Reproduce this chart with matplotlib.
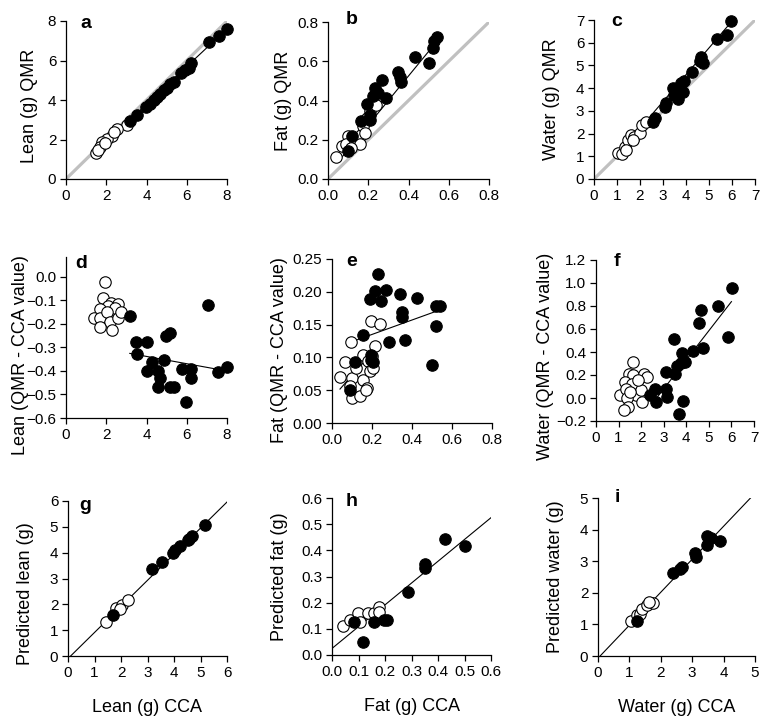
import numpy as np
import matplotlib
matplotlib.use('Agg')
from matplotlib import pyplot as plt

plt.rcParams['font.family'] = ['Liberation Sans', 'DejaVu Sans']

W, H = 768, 727

# ---- panel a: lean, QMR vs CCA
a_fill_x = [8.0, 7.58, 7.09, 6.21, 6.09, 5.93, 5.73, 5.35, 5.18, 5.02, 4.85, 4.69, 4.52, 4.35, 4.19, 3.99, 3.53, 3.16]
a_fill_y = [7.61, 7.22, 6.93, 5.88, 5.62, 5.50, 5.37, 4.92, 4.80, 4.63, 4.50, 4.29, 4.16, 3.99, 3.82, 3.65, 3.23, 2.95]
a_open_x = [3.03, 2.53, 2.28, 2.04, 1.79, 1.70, 1.51, 1.57, 1.95, 2.37]
a_open_y = [2.73, 2.51, 2.17, 2.05, 1.89, 1.63, 1.33, 1.46, 1.80, 2.40]

# ---- panel b: fat, QMR vs CCA
b_fill_x = [0.543, 0.527, 0.522, 0.50, 0.431, 0.348, 0.356, 0.364, 0.27, 0.235, 0.25, 0.224, 0.29, 0.194, 0.207, 0.207, 0.162, 0.119, 0.099]
b_fill_y = [0.724, 0.703, 0.669, 0.592, 0.621, 0.544, 0.52, 0.493, 0.507, 0.464, 0.44, 0.421, 0.413, 0.382, 0.328, 0.302, 0.294, 0.217, 0.145]
b_open_x = [0.041, 0.07, 0.099, 0.091, 0.132, 0.146, 0.162, 0.174, 0.195, 0.207, 0.24, 0.157, 0.116, 0.182]
b_open_y = [0.114, 0.166, 0.22, 0.179, 0.183, 0.20, 0.225, 0.268, 0.311, 0.345, 0.379, 0.179, 0.157, 0.234]

# ---- panel c: water, QMR vs CCA
c_fill_x = [5.95, 5.79, 5.36, 4.60, 4.65, 4.72, 4.27, 3.90, 3.77, 3.88, 3.66, 3.44, 3.47, 3.15, 3.08, 2.57, 2.64, 3.58]
c_fill_y = [6.97, 6.34, 6.17, 5.20, 5.39, 5.12, 4.73, 4.33, 4.24, 3.85, 3.52, 3.99, 3.70, 3.33, 3.16, 2.53, 2.67, 3.85]
c_open_x = [1.04, 1.22, 1.34, 1.48, 1.63, 1.73, 1.99, 2.10, 2.28, 1.41, 1.70]
c_open_y = [1.13, 1.10, 1.42, 1.72, 1.94, 1.86, 2.01, 2.38, 2.53, 1.28, 1.72]

# ---- panel d: lean residual
d_fill_x = [3.17, 3.5, 4.0, 3.55, 4.25, 4.0, 4.86, 4.96, 5.16, 4.58, 4.69, 4.55, 5.16, 5.39, 5.74, 6.23, 6.23, 5.98, 7.06, 7.55, 8.0]
d_fill_y = [-0.165, -0.278, -0.278, -0.329, -0.36, -0.40, -0.353, -0.251, -0.237, -0.40, -0.431, -0.467, -0.469, -0.466, -0.391, -0.391, -0.428, -0.532, -0.12, -0.403, -0.381]
d_open_x = [1.93, 1.85, 2.26, 2.6, 2.07, 1.69, 2.43, 1.4, 1.69, 2.02, 2.18, 2.6, 2.71, 1.69, 2.3]
d_open_y = [-0.021, -0.088, -0.11, -0.113, -0.124, -0.138, -0.131, -0.174, -0.174, -0.151, -0.19, -0.176, -0.151, -0.212, -0.226]

# ---- panel e: fat residual
e_fill_x = [0.23, 0.217, 0.268, 0.192, 0.243, 0.342, 0.427, 0.348, 0.348, 0.518, 0.54, 0.522, 0.153, 0.285, 0.363, 0.502, 0.117, 0.197, 0.197, 0.205, 0.092]
e_fill_y = [0.227, 0.201, 0.202, 0.189, 0.186, 0.196, 0.191, 0.169, 0.161, 0.178, 0.179, 0.148, 0.134, 0.124, 0.127, 0.088, 0.093, 0.103, 0.096, 0.093, 0.050]
e_open_x = [0.193, 0.238, 0.093, 0.213, 0.20, 0.155, 0.063, 0.038, 0.10, 0.18, 0.155, 0.188, 0.205, 0.122, 0.088, 0.177, 0.10, 0.138, 0.168]
e_open_y = [0.156, 0.151, 0.124, 0.118, 0.102, 0.103, 0.093, 0.070, 0.069, 0.094, 0.066, 0.079, 0.084, 0.084, 0.056, 0.054, 0.038, 0.041, 0.051]

# ---- panel f: water residual
f_fill_x = [6.01, 5.41, 4.64, 4.57, 5.85, 4.72, 4.30, 3.46, 3.83, 3.96, 3.76, 3.57, 3.09, 3.48, 3.09, 3.15, 2.61, 2.39, 2.68, 3.86, 3.68]
f_fill_y = [0.957, 0.80, 0.768, 0.655, 0.53, 0.435, 0.409, 0.51, 0.394, 0.313, 0.304, 0.278, 0.226, 0.212, 0.081, 0.009, 0.081, 0.029, -0.035, -0.026, -0.136]
f_open_x = [1.65, 1.46, 1.62, 2.14, 2.28, 1.28, 1.58, 1.06, 1.33, 1.77, 1.39, 1.99, 2.06, 1.43, 1.24, 1.87, 1.51]
f_open_y = [0.313, 0.206, 0.203, 0.212, 0.183, 0.139, 0.125, 0.029, 0.081, 0.029, 0.0, 0.067, -0.035, -0.078, -0.101, 0.154, 0.052]

# ---- panel g: predicted lean
g_fill_x = [5.18, 4.67, 4.58, 4.52, 4.23, 4.02, 3.98, 3.54, 3.16, 1.71]
g_fill_y = [5.08, 4.63, 4.54, 4.48, 4.26, 4.12, 4.00, 3.64, 3.38, 1.57]
g_open_x = [1.43, 1.83, 2.02, 2.25, 1.96]
g_open_y = [1.32, 1.86, 1.99, 2.15, 1.81]

# ---- panel h: predicted fat
h_fill_x = [0.428, 0.501, 0.35, 0.35, 0.287, 0.208, 0.195, 0.157, 0.084, 0.117]
h_fill_y = [0.445, 0.416, 0.347, 0.333, 0.242, 0.133, 0.133, 0.125, 0.125, 0.048]
h_open_x = [0.04, 0.067, 0.097, 0.135, 0.157, 0.176, 0.107, 0.176]
h_open_y = [0.111, 0.133, 0.161, 0.161, 0.161, 0.184, 0.127, 0.165]

# ---- panel i: predicted water
i_fill_x = [3.46, 3.60, 3.46, 3.87, 3.09, 3.12, 2.62, 2.69, 2.40, 1.24]
i_fill_y = [3.79, 3.73, 3.52, 3.65, 3.27, 3.13, 2.76, 2.82, 2.64, 1.10]
i_open_x = [1.05, 1.24, 1.35, 1.40, 1.56, 1.75, 1.64]
i_open_y = [1.10, 1.29, 1.34, 1.50, 1.62, 1.69, 1.71]

# fitted lines: (slope, intercept, x start, x end)
a_fit = (0.954, -0.03, 1.4, 8.0)
b_fit = (1.25, 0.025, 0.05, 0.54)
c_fit = (1.18, -0.13, 1.0, 6.0)
d_fit = (-0.0155, -0.276, 3.17, 8.0)
e_fit_fill = (0.11, 0.113, 0.09, 0.54)
e_fit_open = (0.344, 0.038, 0.04, 0.21)
f_fit = (0.253, -0.68, 2.65, 6.0)
g_fit = (1.01, -0.10, 0.1, 6.0)
h_fit = (0.833, 0.025, 0.0, 0.6)
i_fit = (1.044, -0.07, 0.07, 4.86)

# axis labels
a_ylabel, b_ylabel, c_ylabel = 'Lean (g) QMR', 'Fat (g) QMR', 'Water (g) QMR'
d_ylabel, e_ylabel, f_ylabel = 'Lean (QMR - CCA value)', 'Fat (QMR - CCA value)', 'Water (QMR - CCA value)'
g_ylabel, h_ylabel, i_ylabel = 'Predicted lean (g)', 'Predicted fat (g)', 'Predicted water (g)'
g_xlabel, h_xlabel, i_xlabel = 'Lean (g) CCA', 'Fat (g) CCA', 'Water (g) CCA'

# ticks
lean_ticks = [0, 2, 4, 6, 8]
fat_ticks = [0.0, 0.2, 0.4, 0.6, 0.8]
water_ticks = [0, 1, 2, 3, 4, 5, 6, 7]
d_yticks = [-0.6, -0.5, -0.4, -0.3, -0.2, -0.1, 0.0]
e_yticks = [0.0, 0.05, 0.10, 0.15, 0.20, 0.25]
f_yticks = [-0.2, 0.0, 0.2, 0.4, 0.6, 0.8, 1.0, 1.2]
g_ticks = [0, 1, 2, 3, 4, 5, 6]
h_ticks = [0.0, 0.1, 0.2, 0.3, 0.4, 0.5, 0.6]
i_ticks = [0, 1, 2, 3, 4, 5]

TICK_FS = 11
LABEL_FS = 13
LETTER_FS = 14
MS = 68


def rect(l, r, t, b):
    return [l / W, 1 - b / H, (r - l) / W, (b - t) / H]


def fmt(vals, nd):
    return [f'{v:.{nd}f}'.replace('-', '\u2212') for v in vals]


def panel(box, fx, fy, ox, oy, xt, yt, xnd, ynd, ylabel, letter, lab_pos, let_pos,
          ylim=None, xlabel=None, fits=(), identity=False):
    ax = fig.add_axes(rect(*box))
    for s in ('top', 'right'):
        ax.spines[s].set_visible(False)
    for s in ('left', 'bottom'):
        ax.spines[s].set_linewidth(0.9)
    if identity:
        ax.plot([xt[0], xt[-1]], [xt[0], xt[-1]], color='#c0c0c0', lw=2.3,
                zorder=1, solid_capstyle='butt')
    for k, c, x0, x1 in fits:
        xs = np.array([x0, x1])
        ax.plot(xs, k * xs + c, color='black', lw=0.8, zorder=2)
    ax.scatter(ox, oy, s=MS, facecolor='white', edgecolor='black', lw=0.8, zorder=3, clip_on=False)
    ax.scatter(fx, fy, s=MS, facecolor='black', edgecolor='black', lw=0.8, zorder=4, clip_on=False)
    ax.set_xlim(xt[0], xt[-1])
    ax.set_ylim(ylim if ylim else (yt[0], yt[-1]))
    ax.set_xticks(xt)
    ax.set_xticklabels(fmt(xt, xnd), fontsize=TICK_FS)
    ax.set_yticks(yt)
    ax.set_yticklabels(fmt(yt, ynd), fontsize=TICK_FS)
    ax.tick_params(direction='out', length=4, width=0.9, pad=3)
    # label centre: pixels left of the axis, fraction of the axes height
    ax.set_ylabel(ylabel, fontsize=LABEL_FS, va='center')
    w = box[1] - box[0]
    ax.yaxis.set_label_coords(-lab_pos[0] / w, lab_pos[1])
    if xlabel:
        ax.set_xlabel(xlabel, fontsize=LABEL_FS, labelpad=14)
    fig.text(let_pos[0] / W, 1 - let_pos[1] / H, letter, fontsize=LETTER_FS,
             fontweight='bold', ha='center', va='center')
    return ax


fig = plt.figure(figsize=(W / 100, H / 100), dpi=100)

panel((66, 227, 21, 179), a_fill_x, a_fill_y, a_open_x, a_open_y, lean_ticks, lean_ticks,
      0, 0, a_ylabel, 'a', (37, 0.46), (86, 23), fits=[a_fit], identity=True)
panel((328, 489, 22, 179), b_fill_x, b_fill_y, b_open_x, b_open_y, fat_ticks, fat_ticks,
      1, 1, b_ylabel, 'b', (45, 0.5), (352, 20), fits=[b_fit], identity=True)
panel((594, 755, 20, 179), c_fill_x, c_fill_y, c_open_x, c_open_y, water_ticks, water_ticks,
      0, 0, c_ylabel, 'c', (43, 0.5), (617, 21), fits=[c_fit], identity=True)

panel((66, 227, 257, 418), d_fill_x, d_fill_y, d_open_x, d_open_y, lean_ticks, d_yticks,
      0, 1, d_ylabel, 'd', (46, 0.39), (81, 264), ylim=(-0.6, 0.085), fits=[d_fit])
panel((332, 492, 259, 423), e_fill_x, e_fill_y, e_open_x, e_open_y, fat_ticks, e_yticks,
      1, 2, e_ylabel, 'e', (52, 0.445), (352, 261), fits=[e_fit_fill, e_fit_open])
panel((596, 754, 260, 421), f_fill_x, f_fill_y, f_open_x, f_open_y, water_ticks, f_yticks,
      0, 1, f_ylabel, 'f', (50, 0.40), (617, 261), fits=[f_fit])

panel((68, 227, 501, 656), g_fill_x, g_fill_y, g_open_x, g_open_y, g_ticks, g_ticks,
      0, 0, g_ylabel, 'g', (42, 0.40), (85, 505), xlabel=g_xlabel, fits=[g_fit])
panel((332, 491, 498, 655), h_fill_x, h_fill_y, h_open_x, h_open_y, h_ticks, h_ticks,
      1, 1, h_ylabel, 'h', (53, 0.5), (352, 502), xlabel=h_xlabel, fits=[h_fit])
panel((598, 755, 498, 656), i_fill_x, i_fill_y, i_open_x, i_open_y, i_ticks, i_ticks,
      0, 0, i_ylabel, 'i', (42, 0.5), (617, 498), xlabel=i_xlabel, fits=[i_fit])

fig.savefig('out.png', dpi=100)
